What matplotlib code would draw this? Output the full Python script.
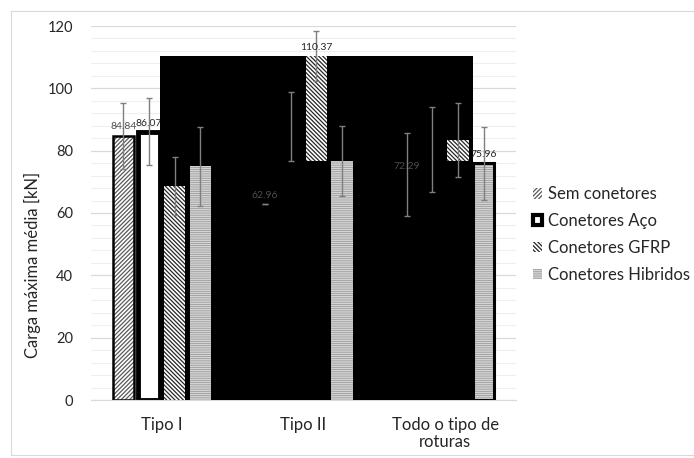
import numpy as np
import matplotlib
matplotlib.use('Agg')
import matplotlib.pyplot as plt
from matplotlib.patches import Rectangle, Patch


# Data
categories = ['Tipo I', 'Tipo II', 'Todo o tipo de\nroturas']
series = ['Sem conetores', 'Conetores Aço', 'Conetores GFRP', 'Conetores Hibridos']

sem = [84.84, 62.96, 72.29]
aco = [86.07, 87.8, 80.4]
gfrp = [68.7, 110.37, 83.4]
hib = [75.0, 76.6, 75.96]

sem_err = [10.6, 0.0, 13.4]
aco_err = [10.8, 11.0, 13.7]
gfrp_err = [9.4, 8.0, 12.0]
hib_err = [12.7, 11.2, 11.7]

# labels that remain readable in the original picture
shown_labels = {'sem': [0, 1, 2], 'aco': [0], 'gfrp': [1], 'hib': [2]}

plt.rcParams['font.family'] = ['Lato', 'DejaVu Sans']
plt.rcParams['hatch.linewidth'] = 0.9

SEM_HATCH = '////////'
GFRP_HATCH = '\\\\\\\\\\\\\\\\'
HIB_HATCH = '---------'

fig = plt.figure(figsize=(6.94, 4.58), dpi=100)
ax = fig.add_axes([91 / 694, 1 - 400 / 458, 425 / 694, 374 / 458])

# outer chart frame
fig.patches.append(Rectangle((11 / 694, 1 - 455 / 458), 700 / 694, 444 / 458,
                             transform=fig.transFigure, fill=False,
                             edgecolor='#d9d9d9', linewidth=0.8))

x = np.arange(len(categories))
slot = 0.181
width = 0.152
xs = [x + (i - 1.5) * slot for i in range(4)]

# Sem conetores / Conetores Aço (mostly hidden by the black block)
ax.bar(xs[0], sem, width, color='white', edgecolor='#595959', hatch=SEM_HATCH,
       linewidth=0, zorder=2)
ax.bar(xs[0], sem, width, fill=False, edgecolor='black', linewidth=1.8, zorder=2)
ax.bar(xs[1], aco, width, color=['white', 'black', 'black'], edgecolor='black',
       linewidth=3.5, zorder=2)

# black block that covers the middle of the plot
left = xs[1][0] + width / 2
right = xs[3][2] - width / 2
ax.add_patch(Rectangle((left, 0), right - left, max(gfrp), color='black',
                       linewidth=0, zorder=3))

ax.bar(xs[2], gfrp, width, color='white', edgecolor='#262626', hatch=GFRP_HATCH,
       linewidth=0, zorder=4)

left2 = xs[3][0] - width / 2
ax.add_patch(Rectangle((left2, 0), right - left2, hib[1], color='black',
                       linewidth=0, zorder=5))

ax.bar(xs[3], hib, width, color='#f4f4f4', edgecolor='#a6a6a6', hatch=HIB_HATCH,
       linewidth=0, zorder=6)
ax.bar(xs[3][2], hib[2], width, fill=False, edgecolor='black', linewidth=2.2,
       zorder=6)

# error bars
for xx, vals, errs in zip(xs, [sem, aco, gfrp, hib],
                          [sem_err, aco_err, gfrp_err, hib_err]):
    ax.errorbar(xx, vals, yerr=errs, fmt='none', ecolor='#7f7f7f',
                elinewidth=1, capsize=2, capthick=1, zorder=7)

# data labels
for key, xx, vals in zip(['sem', 'aco', 'gfrp', 'hib'], xs, [sem, aco, gfrp, hib]):
    for i in shown_labels[key]:
        col = '#4d4d4d' if key == 'sem' else '#262626'
        z = 2.5 if key == 'aco' else 8
        ax.annotate(f'{vals[i]:.2f}', (xx[i], vals[i]), xytext=(0, 3),
                    textcoords='offset points', ha='center', va='bottom',
                    fontsize=7.5, color=col, zorder=z)

ax.set_xlim(-0.5, 2.5)
ax.set_ylim(0, 120)
ax.set_yticks(np.arange(0, 121, 20))
ax.set_yticks(np.arange(0, 121, 4), minor=True)
ax.set_xticks(x)
ax.set_xticklabels(categories, fontsize=12, color='#262626', linespacing=1.1)
ax.tick_params(axis='y', labelsize=10.5, colors='#262626', length=0, pad=13)
ax.tick_params(axis='y', which='minor', length=0)
ax.tick_params(axis='x', length=0, pad=12)
ax.grid(axis='y', which='major', color='#d9d9d9', linewidth=0.9, zorder=0)
ax.grid(axis='y', which='minor', color='#efefef', linewidth=0.8, zorder=0)
ax.set_axisbelow(True)
for s in ['top', 'right', 'left']:
    ax.spines[s].set_visible(False)
ax.spines['bottom'].set_color('#d9d9d9')

ax.set_ylabel('Carga máxima média [kN]', fontsize=12, color='#262626')
ax.yaxis.set_label_coords(-0.118, 0.361)

handles = [
    Patch(facecolor='white', edgecolor='#595959', hatch=SEM_HATCH, linewidth=0),
    Patch(facecolor='white', edgecolor='black', linewidth=3),
    Patch(facecolor='white', edgecolor='#262626', hatch=GFRP_HATCH, linewidth=0),
    Patch(facecolor='#f4f4f4', edgecolor='#a6a6a6', hatch=HIB_HATCH, linewidth=0),
]
fig.legend(handles, series, loc='upper left', bbox_to_anchor=(533 / 694, 0.593),
           frameon=False, fontsize=12, handlelength=0.55, handleheight=0.55,
           handletextpad=0.35, labelspacing=0.65, borderpad=0, borderaxespad=0,
           labelcolor='#262626')

fig.savefig('out.png', dpi=100)
